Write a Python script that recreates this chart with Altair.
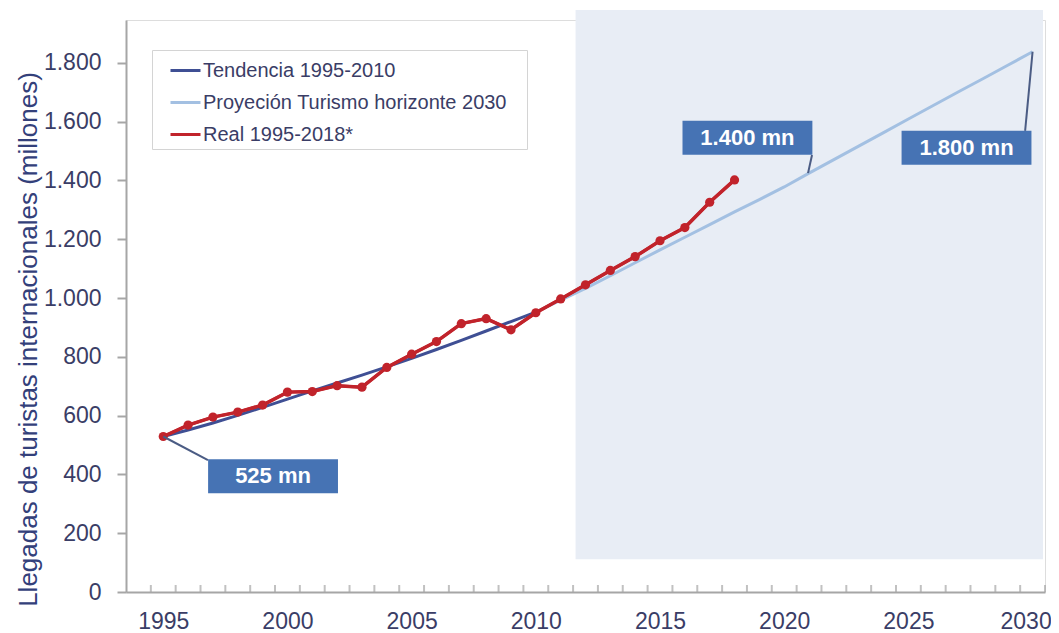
import altair as alt
import pandas as pd

# ---------------- data ----------------
years_real = list(range(1995, 2019))
real_vals = [529, 568, 595, 612, 636, 680, 682, 702, 697, 764, 809, 852,
             913, 930, 892, 950, 997, 1045, 1094, 1141, 1195, 1240, 1326, 1402]

years_trend = list(range(1995, 2011))
trend_vals = [529, 551, 575, 601, 628, 656, 684, 711, 738, 766, 795, 825,
              856, 888, 920, 952]

years_proj = list(range(2010, 2031))
proj_vals = [952, 993, 1033, 1076, 1120, 1164, 1207, 1250, 1293, 1335, 1378,
             1425, 1471, 1517, 1563, 1609, 1655, 1701, 1746, 1792, 1838]

series_names = ["Tendencia 1995-2010", "Proyeción Turismo horizonte 2030", "Real 1995-2018*"]
series_colors = ["#3f4f94", "#a3c0e2", "#c1232b"]

y_ticks = [0, 200, 400, 600, 800, 1000, 1200, 1400, 1600, 1800]
x_labels = [1995, 2000, 2005, 2010, 2015, 2020, 2025, 2030]
x_minor = [1994.5 + i for i in range(37)]

shade_x = [2011.6, 2030.42]
shade_y = [111, 1980]

ann_labels = ["525 mn", "1.400 mn", "1.800 mn"]
ann_box_x = [1999.42, 2018.52, 2027.34]
ann_box_y = [394, 1545, 1511]
ann_from_x = [1996.8, 2021.12, 2029.7]
ann_from_y = [449, 1487, 1569]
ann_to_x = [1995.0, 2020.96, 2030.0]
ann_to_y = [529, 1425, 1838]

# ---------------- tables ----------------
lines_df = pd.concat([
    pd.DataFrame({"year": years_trend, "value": trend_vals, "serie": series_names[0]}),
    pd.DataFrame({"year": years_proj, "value": proj_vals, "serie": series_names[1]}),
    pd.DataFrame({"year": years_real, "value": real_vals, "serie": series_names[2]}),
], ignore_index=True)
real_df = pd.DataFrame({"year": years_real, "value": real_vals})
shade_df = pd.DataFrame({"x0": [shade_x[0]], "x1": [shade_x[1]], "y0": [shade_y[0]], "y1": [shade_y[1]]})
ticks_df = pd.DataFrame({"year": x_minor, "value": [0] * len(x_minor)})
ann_df = pd.DataFrame({"label": ann_labels, "bx": ann_box_x, "by": ann_box_y,
                       "fx": ann_from_x, "fy": ann_from_y, "tx": ann_to_x, "ty": ann_to_y})

TXT = "#3a3d66"
GRAY = "#a6a6a6"
FONT = "Liberation Sans"

x_scale = alt.Scale(domain=[1993.5, 2030.5], nice=False, zero=False)
y_scale = alt.Scale(domain=[0, 1946], nice=False, zero=True)

x_axis = alt.Axis(values=x_labels, format="d", title=None, tickSize=0, labelPadding=18,
                  labelFontSize=23, labelColor=TXT, labelFont=FONT,
                  labelOffset={"condition": {"test": "datum.value == 2030", "value": -7}, "value": 0},
                  domainColor=GRAY, domainWidth=2, grid=False, labelFlush=False)
y_axis = alt.Axis(values=y_ticks, labelExpr="replace(format(datum.value, ','), ',', '.')",
                  title="Llegadas de turistas internacionales (millones)",
                  titleFontSize=26, titleFontWeight="normal", titleColor="#33407a", titleFont=FONT,
                  titleAngle=270, titleX=-90, titleY=319, titleAlign="center", titleBaseline="alphabetic",
                  labelFontSize=23, labelColor=TXT, labelFont=FONT, labelPadding=16,
                  tickSize=9, tickWidth=2, tickColor=GRAY, domainColor=GRAY, domainWidth=2, grid=False)


def X(field):
    return alt.X(field, type="quantitative", scale=x_scale, axis=x_axis)


def Y(field):
    return alt.Y(field, type="quantitative", scale=y_scale, axis=y_axis)


shade = alt.Chart(shade_df).mark_rect(color="#e8edf5").encode(
    x=X("x0"), x2="x1", y=Y("y0"), y2="y1")

legend = alt.Legend(
    title="M", titleOrient="right", titleFontSize=16, titlePadding=2, titleOpacity=0,
    orient="none", legendX=26, legendY=30, direction="vertical",
    symbolType="stroke", symbolSize=900, symbolStrokeWidth=3,
    labelFontSize=20, labelColor=TXT, labelFont=FONT, labelOffset=1, labelLimit=400,
    fillColor="white", strokeColor="#d4d4d4", padding=4, symbolOffset=13, rowPadding=5)

lines = alt.Chart(lines_df).mark_line(strokeWidth=3).encode(
    x=X("year"), y=Y("value"),
    color=alt.Color("serie:N", scale=alt.Scale(domain=series_names, range=series_colors),
                    sort=series_names, legend=legend),
    detail="serie:N")

real_line = alt.Chart(real_df).mark_line(strokeWidth=3.5, color=series_colors[2]).encode(
    x=X("year"), y=Y("value"))
real_pts = alt.Chart(real_df).mark_point(filled=True, size=85, color=series_colors[2], opacity=1).encode(
    x=X("year"), y=Y("value"))

xticks = alt.Chart(ticks_df).mark_tick(orient="vertical", size=7, thickness=2, color=GRAY, yOffset=-3.5).encode(
    x=X("year"), y=Y("value"))

pointers = alt.Chart(ann_df).mark_rule(color="#4b5c84", strokeWidth=2).encode(
    x=X("fx"), y=Y("fy"), x2="tx", y2="ty")

boxes = alt.Chart(ann_df).mark_point(
    shape="M-3.82,-1L3.82,-1L3.82,1L-3.82,1Z", size=1156, filled=True,
    color="#4673b4", opacity=1).encode(x=X("bx"), y=Y("by"))

box_text = alt.Chart(ann_df).mark_text(color="white", fontSize=22, fontWeight="bold", font=FONT).encode(
    x=X("bx"), y=Y("by"), text="label:N")

chart = alt.layer(shade, xticks, lines, real_line, real_pts, pointers, boxes, box_text).properties(
    width=919, height=572,
    padding={"left": 118, "top": 12, "right": 6, "bottom": 41},
    autosize=alt.AutoSizeParams(type="none"),
    background="white",
).configure_view(stroke=None).configure(font=FONT)

chart.save("out.html", embed_options={"renderer": "svg", "actions": False})
